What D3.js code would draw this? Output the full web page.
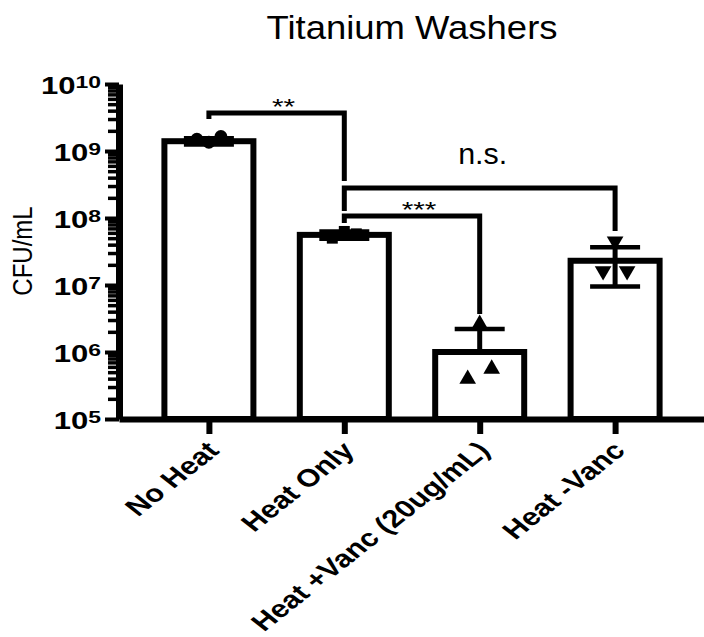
<!DOCTYPE html>
<html>
<head>
<meta charset="utf-8">
<script src="https://cdn.jsdelivr.net/npm/d3@7"></script>
<style>
  html, body { margin: 0; padding: 0; background: #fff; }
  svg { display: block; }
  text { font-family: "Liberation Sans", Arial, Helvetica, sans-serif; fill: #000; }
</style>
</head>
<body>
<svg id="chart" width="704" height="637"></svg>
<script>
// Groups along the x axis
const categories = ["No Heat", "Heat Only", "Heat +Vanc (20ug/mL)", "Heat -Vanc"];

// Bar heights (mean CFU/mL) and standard deviations
const means = [1.4e9, 5.6e7, 1.0e6, 2.3e7];
const sds   = [0.15e9, 0.7e7, 1.2e6, 1.35e7];

// Individual replicates per group (left, middle, right slot)
const pointsNoHeat     = [1.5e9, 1.35e9, 1.65e9];
const pointsHeatOnly   = [5.0e7, 6.3e7, 5.8e7];
const pointsHeatVanc   = [3.95e5, 2.6e6, 5.6e5];
const pointsHeatNoVanc = [1.62e7, 4.5e7, 1.62e7];
const groupPoints = [pointsNoHeat, pointsHeatOnly, pointsHeatVanc, pointsHeatNoVanc];
const groupSymbols = ["circle", "square", "triangle", "triangleDown"];

// Log axis decades and their exponent labels
const yMajorTicks = [1e5, 1e6, 1e7, 1e8, 1e9, 1e10];
const yTickExponents = ["5", "6", "7", "8", "9", "10"];

// Significance comparisons (levels in CFU/mL)
const compFrom     = [0, 1, 1];
const compTo       = [1, 2, 3];
const compLabel    = ["**", "***", "n.s."];
const compLevel    = [3.69e9, 1.07e8, 2.8e8];
const compLeftEnd  = [3.0e9, 8.4e7, 1.27e8];
const compRightEnd = [3.56e8, 3.7e6, 6.4e7];

const title = "Titanium Washers";
const yTitle = "CFU/mL";

const svg = d3.select("#chart");

const x = d3.scalePoint().domain(categories).range([119, 705]).padding(0.664);
const y = d3.scaleLog().domain([1e5, 1e10]).range([419, 84]);

const barWidth = 89;

// Title
svg.append("text")
  .attr("x", 412).attr("y", 39)
  .attr("text-anchor", "middle")
  .attr("font-size", 33)
  .attr("textLength", 291).attr("lengthAdjust", "spacingAndGlyphs")
  .text(title);

// Y axis title
svg.append("g")
  .attr("transform", "translate(32,251) scale(1.12,1) rotate(-90)")
  .append("text")
  .attr("text-anchor", "middle")
  .attr("font-size", 24)
  .text(yTitle);

// Bars
svg.append("g").selectAll("rect")
  .data(categories)
  .join("rect")
  .attr("x", d => x(d) - barWidth / 2)
  .attr("y", (d, i) => y(means[i]))
  .attr("width", barWidth)
  .attr("height", (d, i) => y(1e5) - y(means[i]))
  .attr("fill", "#fff")
  .attr("stroke", "#000")
  .attr("stroke-width", 6);

// Error bars (mean ± SD; lower arm omitted when it falls below zero)
const err = svg.append("g");
categories.forEach((c, i) => {
  const cx = x(c);
  const hi = means[i] + sds[i];
  const lo = means[i] - sds[i];
  const yTop = y(hi);
  const yBot = lo > 0 ? y(lo) : y(means[i]);
  err.append("line")
    .attr("x1", cx).attr("x2", cx).attr("y1", yTop).attr("y2", yBot)
    .attr("stroke", "#000").attr("stroke-width", 5);
  err.append("line")
    .attr("x1", cx - 25).attr("x2", cx + 25).attr("y1", yTop).attr("y2", yTop)
    .attr("stroke", "#000").attr("stroke-width", 4.5);
  if (lo > 0) {
    err.append("line")
      .attr("x1", cx - 25).attr("x2", cx + 25).attr("y1", yBot).attr("y2", yBot)
      .attr("stroke", "#000").attr("stroke-width", 4.5);
  }
});

// Replicate points
const slotOffset = [-12, 0, 12];
const symbolShapes = {
  circle: d3.symbol().type(d3.symbolCircle).size(130),
  square: d3.symbol().type(d3.symbolSquare).size(120),
  triangle: d3.symbol().type(d3.symbolTriangle).size(120),
  triangleDown: d3.symbol().type(d3.symbolTriangle).size(120)
};
const pts = svg.append("g");
categories.forEach((c, i) => {
  const kind = groupSymbols[i];
  groupPoints[i].forEach((v, j) => {
    const rot = kind === "triangleDown" ? " rotate(180)" : "";
    pts.append("path")
      .attr("d", symbolShapes[kind]())
      .attr("transform", `translate(${x(c) + slotOffset[j]},${y(v)})${rot}`)
      .attr("fill", "#000");
  });
});

// Axes
const xAxis = svg.append("g")
  .attr("transform", `translate(0,${y(1e5)})`)
  .call(d3.axisBottom(x).tickSize(15).tickSizeOuter(0).tickFormat(""));
xAxis.select(".domain").attr("stroke-width", 6);
xAxis.selectAll(".tick line").attr("stroke-width", 6);

const yMinorTicks = [];
for (let e = 5; e < 10; e++) for (let m = 2; m <= 9; m++) yMinorTicks.push(m * Math.pow(10, e));

const yMinor = svg.append("g")
  .attr("transform", "translate(119,0)")
  .call(d3.axisLeft(y).tickValues(yMinorTicks).tickSize(11).tickSizeOuter(0).tickFormat(""));
yMinor.select(".domain").remove();
yMinor.selectAll(".tick line").attr("stroke-width", 3.5);

const yAxis = svg.append("g")
  .attr("transform", "translate(119,0)")
  .call(d3.axisLeft(y).tickValues(yMajorTicks).tickSize(14).tickSizeOuter(0).tickFormat(""));
yAxis.select(".domain").attr("stroke-width", 7);
yAxis.selectAll(".tick line").attr("stroke-width", 4);

// Y tick labels: 10 with superscript exponent
yMajorTicks.forEach((v, i) => {
  const t = svg.append("g")
    .attr("transform", `translate(101,${y(v)}) scale(1.35,1)`)
    .append("text")
    .attr("text-anchor", "end")
    .attr("y", 9.5)
    .attr("font-weight", "bold")
    .attr("font-size", 23);
  t.append("tspan").text("10");
  t.append("tspan").attr("dy", -6).attr("font-size", 17).text(yTickExponents[i]);
});

// X tick labels, slanted
categories.forEach(c => {
  svg.append("g")
    .attr("transform", `translate(${x(c) + 4},${446}) scale(1.26,1) rotate(-45)`)
    .append("text")
    .attr("text-anchor", "end")
    .attr("dy", "0.35em")
    .attr("font-weight", "bold")
    .attr("font-size", 24.5)
    .text(c);
});

// Significance brackets
const br = svg.append("g");
compLabel.forEach((lab, k) => {
  const x1 = x(categories[compFrom[k]]);
  const x2 = x(categories[compTo[k]]);
  const yl = y(compLevel[k]);
  br.append("path")
    .attr("d", `M${x1},${y(compLeftEnd[k])}V${yl}H${x2}V${y(compRightEnd[k])}`)
    .attr("fill", "none")
    .attr("stroke", "#000")
    .attr("stroke-width", 5);
  const stars = lab.includes("*");
  const g = br.append("g")
    .attr("transform", `translate(${(x1 + x2) / 2 + (stars ? 7 : 3)},${stars ? yl + 1 : yl - 24}) scale(${stars ? 1.35 : 1.05},1)`);
  g.append("text")
    .attr("text-anchor", "middle")
    .attr("font-size", stars ? 22 : 29)
    .text(lab);
});
</script>
</body>
</html>
